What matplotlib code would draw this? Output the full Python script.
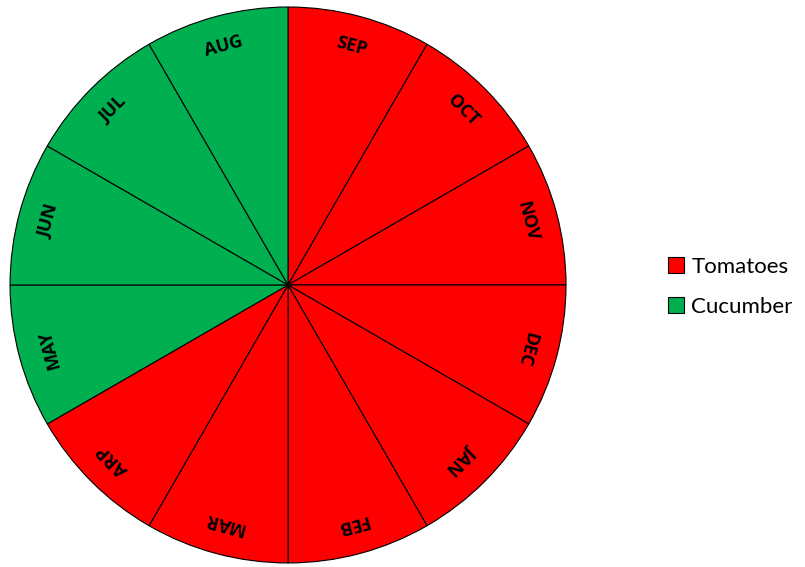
import numpy as np
import matplotlib.pyplot as plt
from matplotlib.patches import Patch

# Months around the wheel, clockwise from the top.
months = ['SEP', 'OCT', 'NOV', 'DEC', 'JAN', 'FEB',
          'MAR', 'ARP', 'MAY', 'JUN', 'JUL', 'AUG']
crops = ['Tomatoes'] * 8 + ['Cucumber'] * 4
sizes = [1] * 12

cropColors = {'Tomatoes': '#FF0000', 'Cucumber': '#00B050'}

fig = plt.figure(figsize=(8.05, 5.67), dpi=100)
# Square axes holding the wheel (556 px across).
ax = fig.add_axes([0.0125, 0.0071, 0.6906, 0.9806])

colors = [cropColors[c] for c in crops]
wedges, _ = ax.pie(sizes, colors=colors, startangle=90, counterclock=False,
                   radius=1,
                   wedgeprops={'edgecolor': 'black', 'linewidth': 0.8})

# Month names written along the rim of each wedge.
for w, m in zip(wedges, months):
    ang = (w.theta1 + w.theta2) / 2.0
    r = 0.89
    x = r * np.cos(np.radians(ang))
    y = r * np.sin(np.radians(ang))
    ax.text(x, y, m, rotation=ang - 90, ha='center', va='center',
            rotation_mode='anchor', fontsize=13, fontweight='bold',
            family='Open Sans')

ax.set_xlim(-1.0, 1.0)
ax.set_ylim(-1.0, 1.0)

handles = [Patch(facecolor=cropColors[k], edgecolor='black', linewidth=0.8)
           for k in ['Tomatoes', 'Cucumber']]
fig.legend(handles, ['Tomatoes', 'Cucumber'], loc='center left',
           bbox_to_anchor=(0.805, 0.494), frameon=False,
           prop={'family': 'Lato', 'size': 16},
           handlelength=0.7, handleheight=0.7, handletextpad=0.35,
           labelspacing=0.9)

fig.savefig('out.png', dpi=100)
